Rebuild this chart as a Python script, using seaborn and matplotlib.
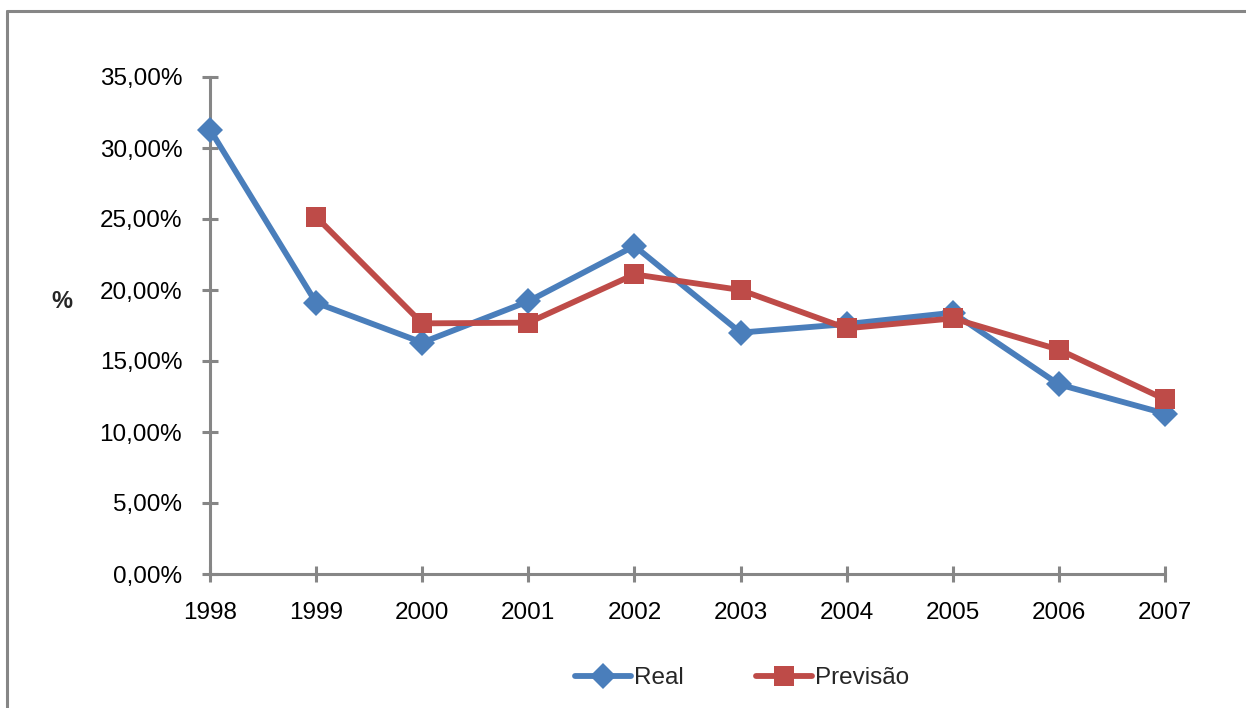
import numpy as np
import pandas as pd
import seaborn as sns
from matplotlib import pyplot as plt
from matplotlib.lines import Line2D
from matplotlib.ticker import FuncFormatter

anos = [1998, 1999, 2000, 2001, 2002, 2003, 2004, 2005, 2006, 2007]
real = [31.3, 19.1, 16.3, 19.2, 23.1, 17.0, 17.6, 18.4, 13.35, 11.3]
previsao = [np.nan, 25.15, 17.65, 17.7, 21.1, 20.0, 17.3, 18.0, 15.8, 12.3]

AZUL = '#4A7EBB'
VERMELHO = '#BE4B48'
CINZA = '#868686'
LW = 4.2

sns.set_style('white')
plt.rcParams['font.family'] = ['Liberation Sans', 'DejaVu Sans']

df = pd.DataFrame({'ano': anos, 'Real': real, 'Previsão': previsao})

fig = plt.figure(figsize=(12.46, 7.08), dpi=100)
ax = fig.add_axes([210 / 1246, 1 - 574 / 708, (1165 - 210) / 1246, (574 - 77) / 708])

sns.lineplot(data=df, x='ano', y='Real', ax=ax, color=AZUL, linewidth=LW,
             marker='D', markersize=13, markeredgewidth=0, label='Real', clip_on=False, zorder=3)
sns.lineplot(data=df.dropna(), x='ano', y='Previsão', ax=ax, color=VERMELHO, linewidth=LW,
             marker='s', markersize=15, markeredgewidth=0, label='Previsão', clip_on=False, zorder=4)

ax.set_xlim(1998, 2007)
ax.set_ylim(0, 35)
ax.set_xticks(anos)
ax.set_yticks(np.arange(0, 36, 5))
ax.yaxis.set_major_formatter(FuncFormatter(lambda v, p: f'{v:.2f}%'.replace('.', ',')))

for lado in ['top', 'right']:
    ax.spines[lado].set_visible(False)
for lado in ['left', 'bottom']:
    ax.spines[lado].set_color(CINZA)
    ax.spines[lado].set_linewidth(2.2)

ax.tick_params(axis='both', direction='inout', length=12, width=2.2, color=CINZA,
               labelsize=17.5, labelcolor='black', bottom=True, left=True)
ax.tick_params(axis='x', pad=14)
ax.tick_params(axis='y', pad=14)
ax.set_xlabel('')
ax.set_ylabel('')
fig.text(62 / 1246, 1 - 301 / 708, '%', fontsize=17, fontweight='bold', ha='center', va='center')

# legenda horizontal abaixo do gráfico
ax.get_legend().remove()
handles = [
    Line2D([], [], color=AZUL, linewidth=LW, marker='D', markersize=13, markeredgewidth=0),
    Line2D([], [], color=VERMELHO, linewidth=LW, marker='s', markersize=15, markeredgewidth=0),
]
fig.legend(handles, ['Real', 'Previsão'], loc='center', bbox_to_anchor=(742 / 1246, 1 - 678 / 708),
           ncol=2, frameon=False, fontsize=17.5, handlelength=2.3, handletextpad=0.1, columnspacing=3.0)

# moldura externa (só esquerda e topo aparecem)
fig.add_artist(Line2D([7 / 1246, 7 / 1246], [0, 1 - 11 / 708], color=CINZA, linewidth=2.2,
                      transform=fig.transFigure))
fig.add_artist(Line2D([7 / 1246, 1], [1 - 11 / 708, 1 - 11 / 708], color=CINZA, linewidth=2.2,
                      transform=fig.transFigure))

fig.savefig('out.png', dpi=100)
